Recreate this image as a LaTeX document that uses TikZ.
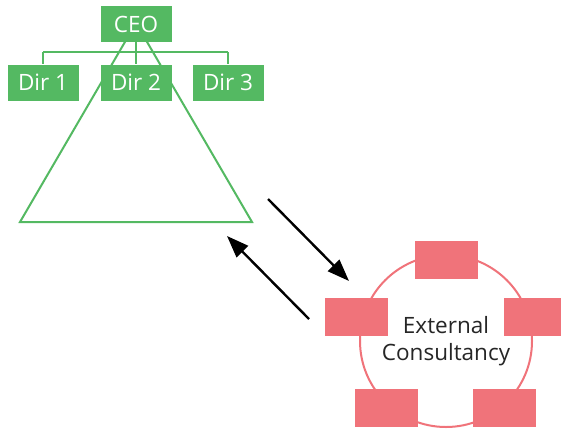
\documentclass[tikz,border=0pt]{standalone}
\usepackage{fontspec}
\setmainfont{Open Sans}
\usetikzlibrary{arrows.meta}
\definecolor{orggreen}{RGB}{84,185,98}
\definecolor{conspink}{RGB}{240,115,122}
\begin{document}
\begin{tikzpicture}[x=1pt,y=-1pt,
  rolebox/.style={fill=orggreen,text=white,minimum width=71pt,minimum height=36pt,
    inner sep=0pt,font=\fontsize{22.5}{22.5}\selectfont},
  orgline/.style={draw=orggreen,line width=2pt},
  seat/.style={fill=conspink,minimum width=63pt,minimum height=38pt,inner sep=0pt},
  flow/.style={line width=2.4pt,-{Triangle[length=22pt,width=16pt]}}]
\clip (0,0) rectangle (561,429);
\fill[white] (0,0) rectangle (561,429);

% hierarchy pyramid (apex hidden behind the CEO box)
\coordinate (apex) at (136,23);
\coordinate (baseL) at (20,222);
\coordinate (baseR) at (252,222);
\draw[orgline,line join=miter] (apex) -- (baseL) -- (baseR) -- cycle;

% reporting lines
\coordinate (busL) at (43,52);
\coordinate (busM) at (136,52);
\coordinate (busR) at (228,52);
\draw[orgline] (busL) -- (busR);

\node[rolebox] (ceo) at (136,24) {CEO};
\node[rolebox] (d1) at (43,82.5) {Dir 1};
\node[rolebox] (d2) at (136,82.5) {Dir 2};
\node[rolebox] (d3) at (228,82.5) {Dir 3};
\draw[orgline] (ceo.south) -- (d2.north);
\draw[orgline] (busL) -- (d1.north);
\draw[orgline] (busR) -- (d3.north);

% consultancy ring
\node[circle,draw=conspink,line width=2pt,minimum size=172pt,inner sep=0pt,
  align=center,text=black!85,font=\fontsize{22.5}{27}\selectfont] (ext) at (446,341)
  {External\\Consultancy};
\node[seat] (s1) at (446,260) {};
\node[seat] (s2) at (356.5,317) {};
\node[seat] (s3) at (535.5,317) {};
\node[seat] (s4) at (386.5,408) {};
\node[seat] (s5) at (504.5,408) {};

% exchange arrows
\coordinate (outA) at (268,199);
\coordinate (outB) at (349,281);
\coordinate (inA) at (309,319);
\coordinate (inB) at (227,236);
\draw[flow] (outA) -- (outB);
\draw[flow] (inA) -- (inB);
\end{tikzpicture}
\end{document}
